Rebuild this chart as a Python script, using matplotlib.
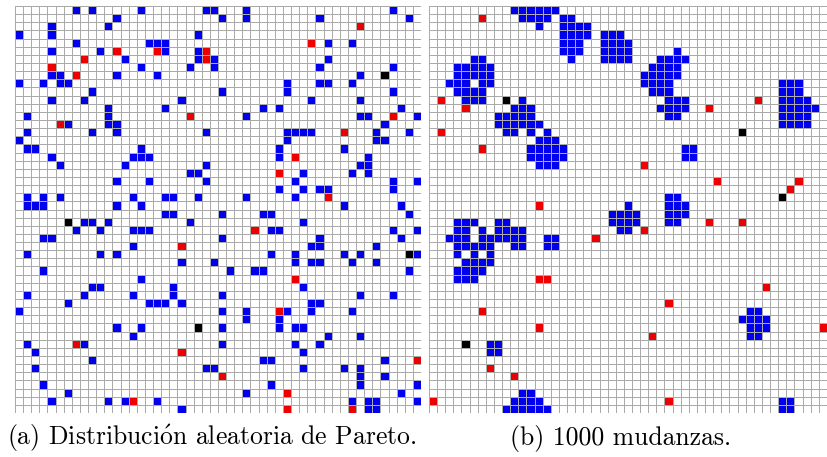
import numpy as np
import matplotlib
matplotlib.use("Agg")
import matplotlib.pyplot as plt
from matplotlib.colors import ListedColormap

N = 50

# (a) distribucion aleatoria: fila -> columnas
pareto_blue = {
    0: [7, 9, 15, 23, 24, 28, 46], 1: [12, 25, 28, 37, 48], 2: [4, 11],
    3: [0, 4, 22], 4: [7, 16, 17, 18, 38, 41], 5: [4, 10, 18, 22],
    6: [13, 22, 24, 38], 7: [15, 21, 24, 37, 46], 8: [4, 5, 12, 17, 42],
    9: [0, 3, 5, 6, 33, 37, 38, 41], 10: [9, 25, 33, 46], 11: [4, 8, 20, 36, 42],
    12: [11, 18, 30, 32, 47], 13: [1, 11, 28, 42, 43, 49], 14: [6, 11, 12, 45],
    15: [1, 9, 12, 23, 33, 34, 35, 36, 44, 48], 16: [0, 33, 44, 45],
    17: [1, 2, 15, 32, 40], 18: [4, 14, 15, 16, 32, 43], 19: [5, 13, 23, 42, 43],
    20: [21, 22, 35, 41, 43], 21: [12, 16, 23, 34, 46, 49], 22: [32, 35, 37, 38, 46],
    23: [1, 3, 5, 14, 18, 19, 22, 28, 34], 24: [1, 2, 3, 12, 15, 40, 47],
    25: [18, 19, 25, 30, 31, 48], 26: [8, 9, 11, 21, 35],
    27: [7, 10, 14, 15, 16, 31, 32, 46, 49], 28: [3, 4, 25, 37, 47],
    29: [14, 36, 37, 44], 30: [1, 10, 12, 31, 34, 40, 42, 49],
    31: [20, 24, 34, 36, 37, 41, 44], 32: [3, 26, 29, 30, 48], 33: [15],
    34: [9, 10, 19, 35], 35: [1, 8, 14, 19, 25, 42, 46], 36: [6, 16, 17, 18, 20, 36, 37],
    37: [0, 25, 28, 33, 36, 41], 38: [28, 32], 39: [12, 15, 25, 32, 34, 35],
    40: [14, 38, 42], 41: [1, 8, 25, 34, 37], 42: [2, 35], 43: [9, 30, 31, 45],
    44: [2, 23, 24, 35, 40, 42], 45: [42, 45], 46: [3, 31, 42, 49], 47: [6, 28, 47],
    48: [4, 11, 13, 17, 41, 43, 44, 49], 49: [20, 43, 44],
}
pareto_red = {
    2: [42], 4: [36], 5: [12, 17, 23], 6: [8, 23], 7: [4], 8: [7], 13: [21, 46],
    14: [5], 15: [40], 18: [34], 20: [32], 23: [38], 27: [29], 29: [20], 33: [34],
    37: [32], 41: [7], 42: [20], 43: [49], 45: [25], 47: [33], 48: [14], 49: [33, 41],
}
pareto_black = {8: [45], 26: [6], 30: [48], 39: [22]}

# (b) despues de 1000 mudanzas
moved_blue = {
    0: [10, 11, 12, 13, 14, 15], 1: [11, 12, 13, 14, 16, 17], 2: [13, 16, 17, 18, 19],
    3: [16, 17, 18, 19, 21, 22, 23], 4: [16, 17, 18, 21, 22, 23, 24],
    5: [16, 17, 18, 21, 22, 23, 24, 30], 6: [5, 6, 17, 21, 22, 23, 24, 28, 29, 30, 31],
    7: [3, 4, 5, 6, 7, 27, 28, 29, 30], 8: [3, 4, 5, 6, 7, 26, 27, 28, 29, 30],
    9: [2, 3, 4, 6, 7, 26, 27, 28, 29, 43, 44, 45], 10: [3, 4, 5, 6, 27, 28, 29, 43, 44, 45],
    11: [4, 5, 6, 11, 29, 30, 31, 43, 44, 45, 46],
    12: [10, 11, 12, 28, 29, 30, 31, 43, 44, 45, 46, 47],
    13: [8, 9, 10, 11, 12, 29, 30, 43, 44, 45, 46],
    14: [8, 9, 10, 11, 12, 13, 43, 44, 45, 46], 15: [9, 10, 12, 14], 16: [13, 14, 15],
    17: [12, 13, 14, 15, 16, 31, 32], 18: [12, 13, 14, 15, 16, 31, 32], 19: [13, 14, 15],
    23: [29, 30], 24: [24, 29, 30, 31], 25: [22, 23, 24, 25, 29, 30, 31],
    26: [3, 4, 5, 8, 9, 22, 23, 24, 25, 29, 30], 27: [3, 4, 6, 8, 9, 10, 11, 23, 24],
    28: [2, 3, 4, 6, 7, 8, 9, 10, 11, 14, 15], 29: [3, 4, 5, 6, 7, 10, 11, 14, 15],
    30: [3, 5, 7], 31: [4, 5, 6, 7], 32: [3, 4, 5, 6], 33: [3, 4, 5],
    37: [39, 40], 38: [38, 39, 40, 41], 39: [39, 40, 41], 40: [39, 40],
    41: [7, 8], 42: [7, 8], 47: [11, 12], 48: [10, 11, 12, 13, 43, 44],
    49: [9, 10, 11, 12, 13, 14, 43, 44],
}
moved_red = {
    1: [6], 11: [1, 40], 12: [4, 34], 15: [1], 17: [6], 19: [26], 21: [35, 45],
    22: [44], 24: [13], 26: [34, 38], 27: [26], 28: [20], 33: [13, 14], 34: [41],
    36: [29], 37: [6], 39: [13, 48], 40: [27], 44: [7], 45: [10], 48: [0, 29],
}
moved_black = {11: [9], 15: [38], 23: [43], 41: [4]}

captions = [r"(a) Distribuci$\mathrm{\acute{o}}$n aleatoria de Pareto.",
            "(b) 1000 mudanzas."]


def build_grid(blue, red, black):
    g = np.zeros((N, N), dtype=int)
    for code, cells in ((1, blue), (2, red), (3, black)):
        for r, cols in cells.items():
            g[r, cols] = code
    return g


plt.rcParams["mathtext.fontset"] = "cm"
cmap = ListedColormap(["white", "#0000ee", "#ee0000", "black"])

fig = plt.figure(figsize=(8.27, 4.57), dpi=100)
W, H = 827, 457

panels = [
    (build_grid(pareto_blue, pareto_red, pareto_black), 15, 212),
    (build_grid(moved_blue, moved_red, moved_black), 429, 621),
]
for (grid, left, cx), text in zip(panels, captions):
    ax = fig.add_axes([left / W, 1 - 413 / H, 406 / W, 407 / H])
    ax.pcolormesh(grid, cmap=cmap, vmin=-0.5, vmax=3.5,
                  edgecolors="#aaaaaa", linewidth=0.6)
    ax.set_xlim(0, N)
    ax.set_ylim(N, 0)
    ax.axis("off")
    fig.text(cx / W, 1 - 438 / H, text, ha="center", va="center",
             fontsize=18.5, family=["cmr10", "DejaVu Serif"])

fig.savefig("out.png", dpi=100)
